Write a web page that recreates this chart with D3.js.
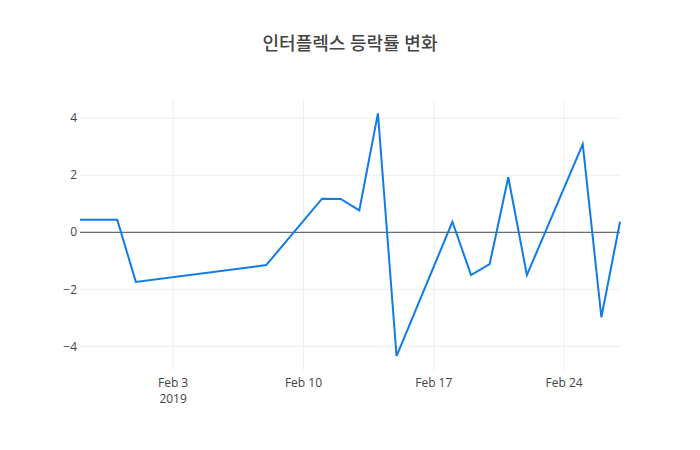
<!DOCTYPE html>
<html>
<head>
<meta charset="utf-8">
<script src="https://cdn.jsdelivr.net/npm/d3@7"></script>
<style>
  body { margin: 0; background: #fff; }
  text { font-family: "Open Sans", "Noto Sans CJK KR", sans-serif; fill: #444; }
</style>
</head>
<body>
<div id="chart"></div>
<script>
var dates = ["2019-01-29", "2019-01-30", "2019-01-31", "2019-02-01", "2019-02-08",
             "2019-02-11", "2019-02-12", "2019-02-13", "2019-02-14", "2019-02-15",
             "2019-02-18", "2019-02-19", "2019-02-20", "2019-02-21", "2019-02-22",
             "2019-02-25", "2019-02-26", "2019-02-27"];
var values = [0.44, 0.44, 0.44, -1.74, -1.15,
              1.18, 1.17, 0.77, 4.17, -4.34,
              0.37, -1.50, -1.12, 1.93, -1.50,
              3.09, -2.98, 0.37];
var xTicks = ["2019-02-03", "2019-02-10", "2019-02-17", "2019-02-24"];
var yTicks = [-4, -2, 0, 2, 4];
var title = "인터플렉스 등락률 변화";

var totalW = 700, totalH = 450;
var margin = {top: 100, right: 80, bottom: 80, left: 80},
    width = totalW - margin.left - margin.right,
    height = totalH - margin.top - margin.bottom;

var parse = d3.utcParse("%Y-%m-%d");
var data = dates.map(function(d, i) { return {date: parse(d), val: values[i]}; });

var x = d3.scaleUtc()
    .domain(d3.extent(data, function(d) { return d.date; }))
    .range([0, width]);

var y = d3.scaleLinear()
    .domain([-4.83, 4.64])
    .range([height, 0]);

var svg = d3.select("#chart").append("svg")
    .attr("width", totalW)
    .attr("height", totalH);

svg.append("text")
    .attr("x", totalW / 2)
    .attr("y", 50)
    .attr("text-anchor", "middle")
    .style("font-size", "18px")
    .style("font-weight", "500")
    .text(title);

var g = svg.append("g")
    .attr("transform", "translate(" + margin.left + "," + margin.top + ")");

// grid
g.selectAll(".vgrid")
    .data(xTicks)
  .enter().append("line")
    .attr("x1", function(d) { return x(parse(d)); })
    .attr("x2", function(d) { return x(parse(d)); })
    .attr("y1", 0)
    .attr("y2", height)
    .attr("stroke", "#eee");

g.selectAll(".hgrid")
    .data(yTicks.filter(function(d) { return d != 0; }))
  .enter().append("line")
    .attr("x1", 0)
    .attr("x2", width)
    .attr("y1", function(d) { return y(d); })
    .attr("y2", function(d) { return y(d); })
    .attr("stroke", "#eee");

// zero line
g.append("line")
    .attr("x1", 0)
    .attr("x2", width)
    .attr("y1", y(0))
    .attr("y2", y(0))
    .attr("stroke", "#444")
    .attr("stroke-width", 1);

// y labels
g.selectAll(".ylab")
    .data(yTicks)
  .enter().append("text")
    .attr("x", -3)
    .attr("y", function(d) { return y(d); })
    .attr("dy", "0.35em")
    .attr("text-anchor", "end")
    .style("font-size", "12px")
    .text(function(d) { return d < 0 ? "\u2212" + Math.abs(d) : d; });

// x labels
var fmt = d3.utcFormat("%b %-d");
g.selectAll(".xlab")
    .data(xTicks)
  .enter().append("text")
    .attr("x", function(d) { return x(parse(d)); })
    .attr("y", height + 17)
    .attr("text-anchor", "middle")
    .style("font-size", "12px")
    .text(function(d) { return fmt(parse(d)); });

g.append("text")
    .attr("x", x(parse(xTicks[0])))
    .attr("y", height + 33)
    .attr("text-anchor", "middle")
    .style("font-size", "12px")
    .text("2019");

// line
var line = d3.line()
    .x(function(d) { return x(d.date); })
    .y(function(d) { return y(d.val); });

g.append("path")
    .datum(data)
    .attr("fill", "none")
    .attr("stroke", "#0f7be6")
    .attr("stroke-width", 2)
    .attr("d", line);
</script>
</body>
</html>
